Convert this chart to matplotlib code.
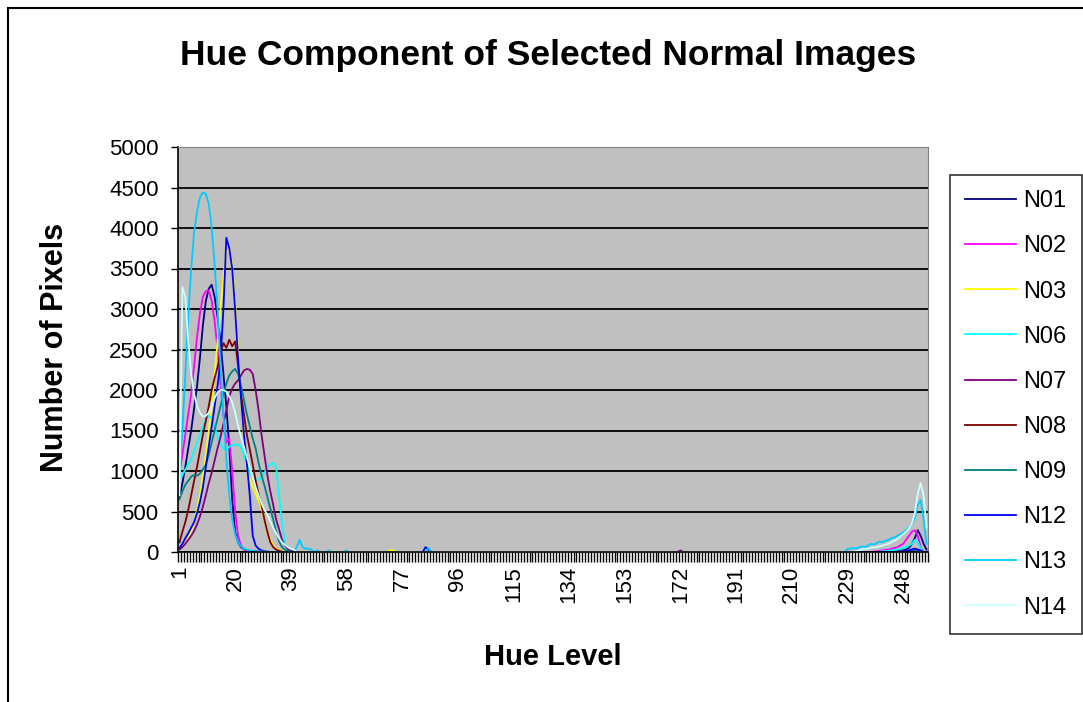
import numpy as np
import matplotlib.pyplot as plt
from matplotlib.lines import Line2D

plt.rcParams['font.family'] = ['Liberation Sans', 'DejaVu Sans']

hue = np.arange(1, 257)
names = ['N01', 'N02', 'N03', 'N06', 'N07', 'N08', 'N09', 'N12', 'N13', 'N14']
colors = ['#000080', '#FF00FF', '#FFFF00', '#00FFFF', '#800080',
          '#800000', '#008080', '#0000FF', '#00CCFF', '#CCFFFF']

# pixel counts for hue 1..40
n01_low = [670, 850, 1050, 1280, 1500, 1780, 2050, 2400, 2800, 3100, 3250, 3300, 3150, 2900,
           2600, 2200, 1800, 1300, 650, 250, 120, 60, 35, 20, 15, 10, 10, 5, 5, 0,
           0, 0, 0, 0, 0, 0, 0, 0, 0, 0]
n02_low = [980, 1200, 1450, 1700, 1950, 2300, 2650, 2950, 3150, 3220, 3230, 3100, 2850, 2500,
           2100, 1700, 1350, 1400, 1000, 500, 200, 80, 40, 20, 10, 5, 0, 0, 0, 0,
           0, 0, 0, 0, 0, 0, 0, 0, 0, 0]
n03_low = [30, 60, 100, 170, 260, 380, 520, 700, 950, 1200, 1500, 1800, 2200, 2600,
           3000, 3400, 3700, 3740, 3550, 3100, 2500, 1900, 1400, 1050, 900, 800, 720, 630, 540, 400,
           250, 150, 80, 40, 20, 10, 5, 0, 0, 0]
n06_low = [900, 950, 1020, 1080, 1140, 1250, 1350, 1450, 1550, 1630, 1680, 1650, 1550, 1420,
           1330, 1280, 1260, 1300, 1320, 1330, 1320, 1300, 1200, 1080, 970, 920, 900, 890, 920, 980,
           1050, 1080, 1100, 1050, 700, 350, 100, 50, 30, 20]
n07_low = [30, 60, 100, 150, 200, 260, 340, 440, 560, 700, 850, 980, 1130, 1280,
           1420, 1580, 1750, 1920, 2020, 2080, 2120, 2180, 2240, 2260, 2250, 2200, 2000, 1750, 1450, 1200,
           950, 750, 580, 400, 280, 150, 80, 40, 20, 10]
n08_low = [120, 250, 370, 520, 700, 880, 1050, 1250, 1450, 1620, 1800, 2000, 2150, 2280,
           2450, 2580, 2520, 2620, 2540, 2600, 2300, 1950, 1700, 1450, 1270, 1080, 880, 720, 580, 400,
           250, 120, 60, 30, 15, 5, 0, 0, 0, 0]
n09_low = [650, 750, 830, 880, 930, 950, 940, 970, 1020, 1080, 1200, 1350, 1500, 1650,
           1800, 1950, 2080, 2180, 2230, 2260, 2200, 2050, 1880, 1700, 1550, 1400, 1280, 1100, 950, 820,
           680, 540, 400, 250, 130, 60, 30, 15, 5, 0]
n12_low = [50, 100, 170, 230, 300, 370, 480, 620, 800, 1050, 1300, 1550, 1800, 2050,
           2350, 3000, 3880, 3750, 3500, 3000, 2400, 1900, 1450, 1100, 700, 200, 80, 40, 20, 10,
           5, 0, 0, 0, 0, 0, 0, 0, 0, 0]
n13_low = [950, 1500, 2200, 2900, 3500, 3950, 4200, 4380, 4440, 4420, 4300, 4000, 3550, 3000,
           2300, 1700, 1150, 700, 400, 220, 120, 70, 40, 30, 20, 15, 10, 10, 5, 5,
           0, 0, 0, 0, 0, 0, 0, 0, 0, 0]
n14_low = [700, 3270, 3150, 2600, 2200, 1950, 1800, 1720, 1670, 1680, 1720, 1800, 1900, 1970,
           2000, 2000, 1980, 1920, 1850, 1720, 1560, 1420, 1300, 1170, 1050, 920, 800, 700, 600, 520,
           460, 380, 300, 230, 170, 120, 90, 60, 40, 30]

# pixel counts for hue 229..256
n01_high = [0, 0, 0, 0, 0, 0, 0, 0, 0, 0, 0, 0, 0, 0,
            0, 0, 5, 10, 15, 20, 30, 50, 100, 170, 270, 200, 100, 30]
n02_high = [0, 0, 0, 0, 0, 0, 0, 0, 0, 5, 10, 15, 20, 25,
            30, 40, 50, 60, 80, 100, 150, 200, 250, 270, 200, 60, 0, 0]
n03_high = [0, 0, 0, 0, 0, 0, 0, 0, 0, 0, 0, 0, 0, 0,
            0, 0, 0, 0, 5, 10, 10, 20, 20, 30, 20, 10, 0, 0]
n06_high = [0, 0, 0, 0, 0, 0, 0, 0, 0, 0, 0, 5, 10, 10,
            15, 20, 25, 30, 40, 50, 60, 80, 100, 150, 120, 50, 0, 0]
n07_high = [0, 0, 0, 0, 0, 0, 0, 0, 0, 0, 0, 0, 0, 0,
            0, 0, 0, 0, 5, 10, 15, 20, 30, 40, 30, 10, 0, 0]
n08_high = [0, 0, 0, 0, 0, 0, 0, 0, 0, 0, 0, 0, 0, 0,
            0, 0, 0, 0, 0, 5, 10, 10, 20, 20, 10, 5, 0, 0]
n09_high = [0, 0, 0, 0, 0, 0, 0, 0, 0, 0, 0, 0, 0, 0,
            0, 0, 0, 0, 0, 5, 10, 10, 15, 20, 10, 5, 0, 0]
n12_high = [0, 0, 0, 0, 0, 0, 0, 0, 0, 0, 0, 0, 0, 0,
            0, 0, 0, 0, 5, 10, 10, 20, 30, 40, 30, 20, 0, 0]
n13_high = [40, 40, 50, 40, 60, 70, 60, 80, 100, 90, 110, 130, 120, 140,
            150, 170, 180, 200, 220, 240, 270, 300, 340, 420, 580, 640, 400, 100]
n14_high = [0, 0, 0, 10, 20, 30, 40, 40, 50, 60, 60, 70, 80, 90,
            100, 120, 140, 160, 190, 220, 250, 290, 350, 480, 720, 850, 700, 300]

# isolated small counts elsewhere {hue: count}
n03_blips = {73: 20, 74: 20}
n12_blips = {85: 60, 86: 30}
n13_blips = {41: 60, 42: 150, 43: 60, 44: 40, 45: 40, 46: 30, 48: 20, 52: 20, 58: 20, 86: 50}
n07_blips = {172: 20}


def build(low, high, blips=None):
    y = np.zeros(256)
    y[:len(low)] = low
    y[256 - len(high):] = high
    for h, v in (blips or {}).items():
        y[h - 1] = v
    return y


series = [
    build(n01_low, n01_high),
    build(n02_low, n02_high),
    build(n03_low, n03_high, n03_blips),
    build(n06_low, n06_high),
    build(n07_low, n07_high, n07_blips),
    build(n08_low, n08_high),
    build(n09_low, n09_high),
    build(n12_low, n12_high, n12_blips),
    build(n13_low, n13_high, n13_blips),
    build(n14_low, n14_high),
]

fig = plt.figure(figsize=(10.83, 7.02), dpi=100)
ax = fig.add_axes([178 / 1083, 1 - 552 / 702, 750 / 1083, 405 / 702])
ax.set_facecolor('#C0C0C0')

for name, col, y in zip(names, colors, series):
    ax.plot(hue, y, color=col, lw=1.3, label=name)

ax.set_xlim(0.5, 256.5)
ax.set_ylim(0, 5000)
ax.set_yticks(np.arange(0, 5001, 500))
ax.grid(axis='y', color='black', lw=1.3)
ax.set_axisbelow(True)

major = np.arange(1, 257, 19)
ax.set_xticks(major)
ax.set_xticklabels([str(m) for m in major], rotation=90)
ax.set_xticks(np.arange(0.5, 257, 1), minor=True)
ax.tick_params(axis='x', which='major', length=0, pad=10, labelsize=16)
ax.tick_params(axis='x', which='minor', length=7, width=1, color='black')
ax.tick_params(axis='y', length=5, width=1, pad=9, labelsize=16)

for s in ['top', 'right']:
    ax.spines[s].set_color('#808080')
for s in ['left', 'bottom']:
    ax.spines[s].set_color('black')
    ax.spines[s].set_linewidth(1.2)

fig.text(0.506, 1 - 55 / 702, 'Hue Component of Selected Normal Images',
         ha='center', va='center', fontsize=25.5, fontweight='bold')
fig.text(55 / 1083, 1 - 347 / 702, 'Number of Pixels', rotation=90,
         ha='center', va='center', fontsize=22, fontweight='bold')
fig.text(553 / 1083, 1 - 657 / 702, 'Hue Level',
         ha='center', va='center', fontsize=21, fontweight='bold')

leg = fig.legend(loc='upper left', bbox_to_anchor=(950 / 1083, 1 - 175 / 702),
                 fontsize=17, frameon=True, fancybox=False, handlelength=2.15,
                 labelspacing=0.98, borderpad=0.65, handletextpad=0.3, borderaxespad=0)
leg.get_frame().set_edgecolor('black')
leg.get_frame().set_linewidth(1.2)

# outer chart border
fig.add_artist(Line2D([8 / 1083, 8 / 1083], [0, 1 - 8 / 702], color='black', lw=1.5))
fig.add_artist(Line2D([8 / 1083, 1], [1 - 8 / 702, 1 - 8 / 702], color='black', lw=1.5))

fig.savefig('out.png', dpi=100)
